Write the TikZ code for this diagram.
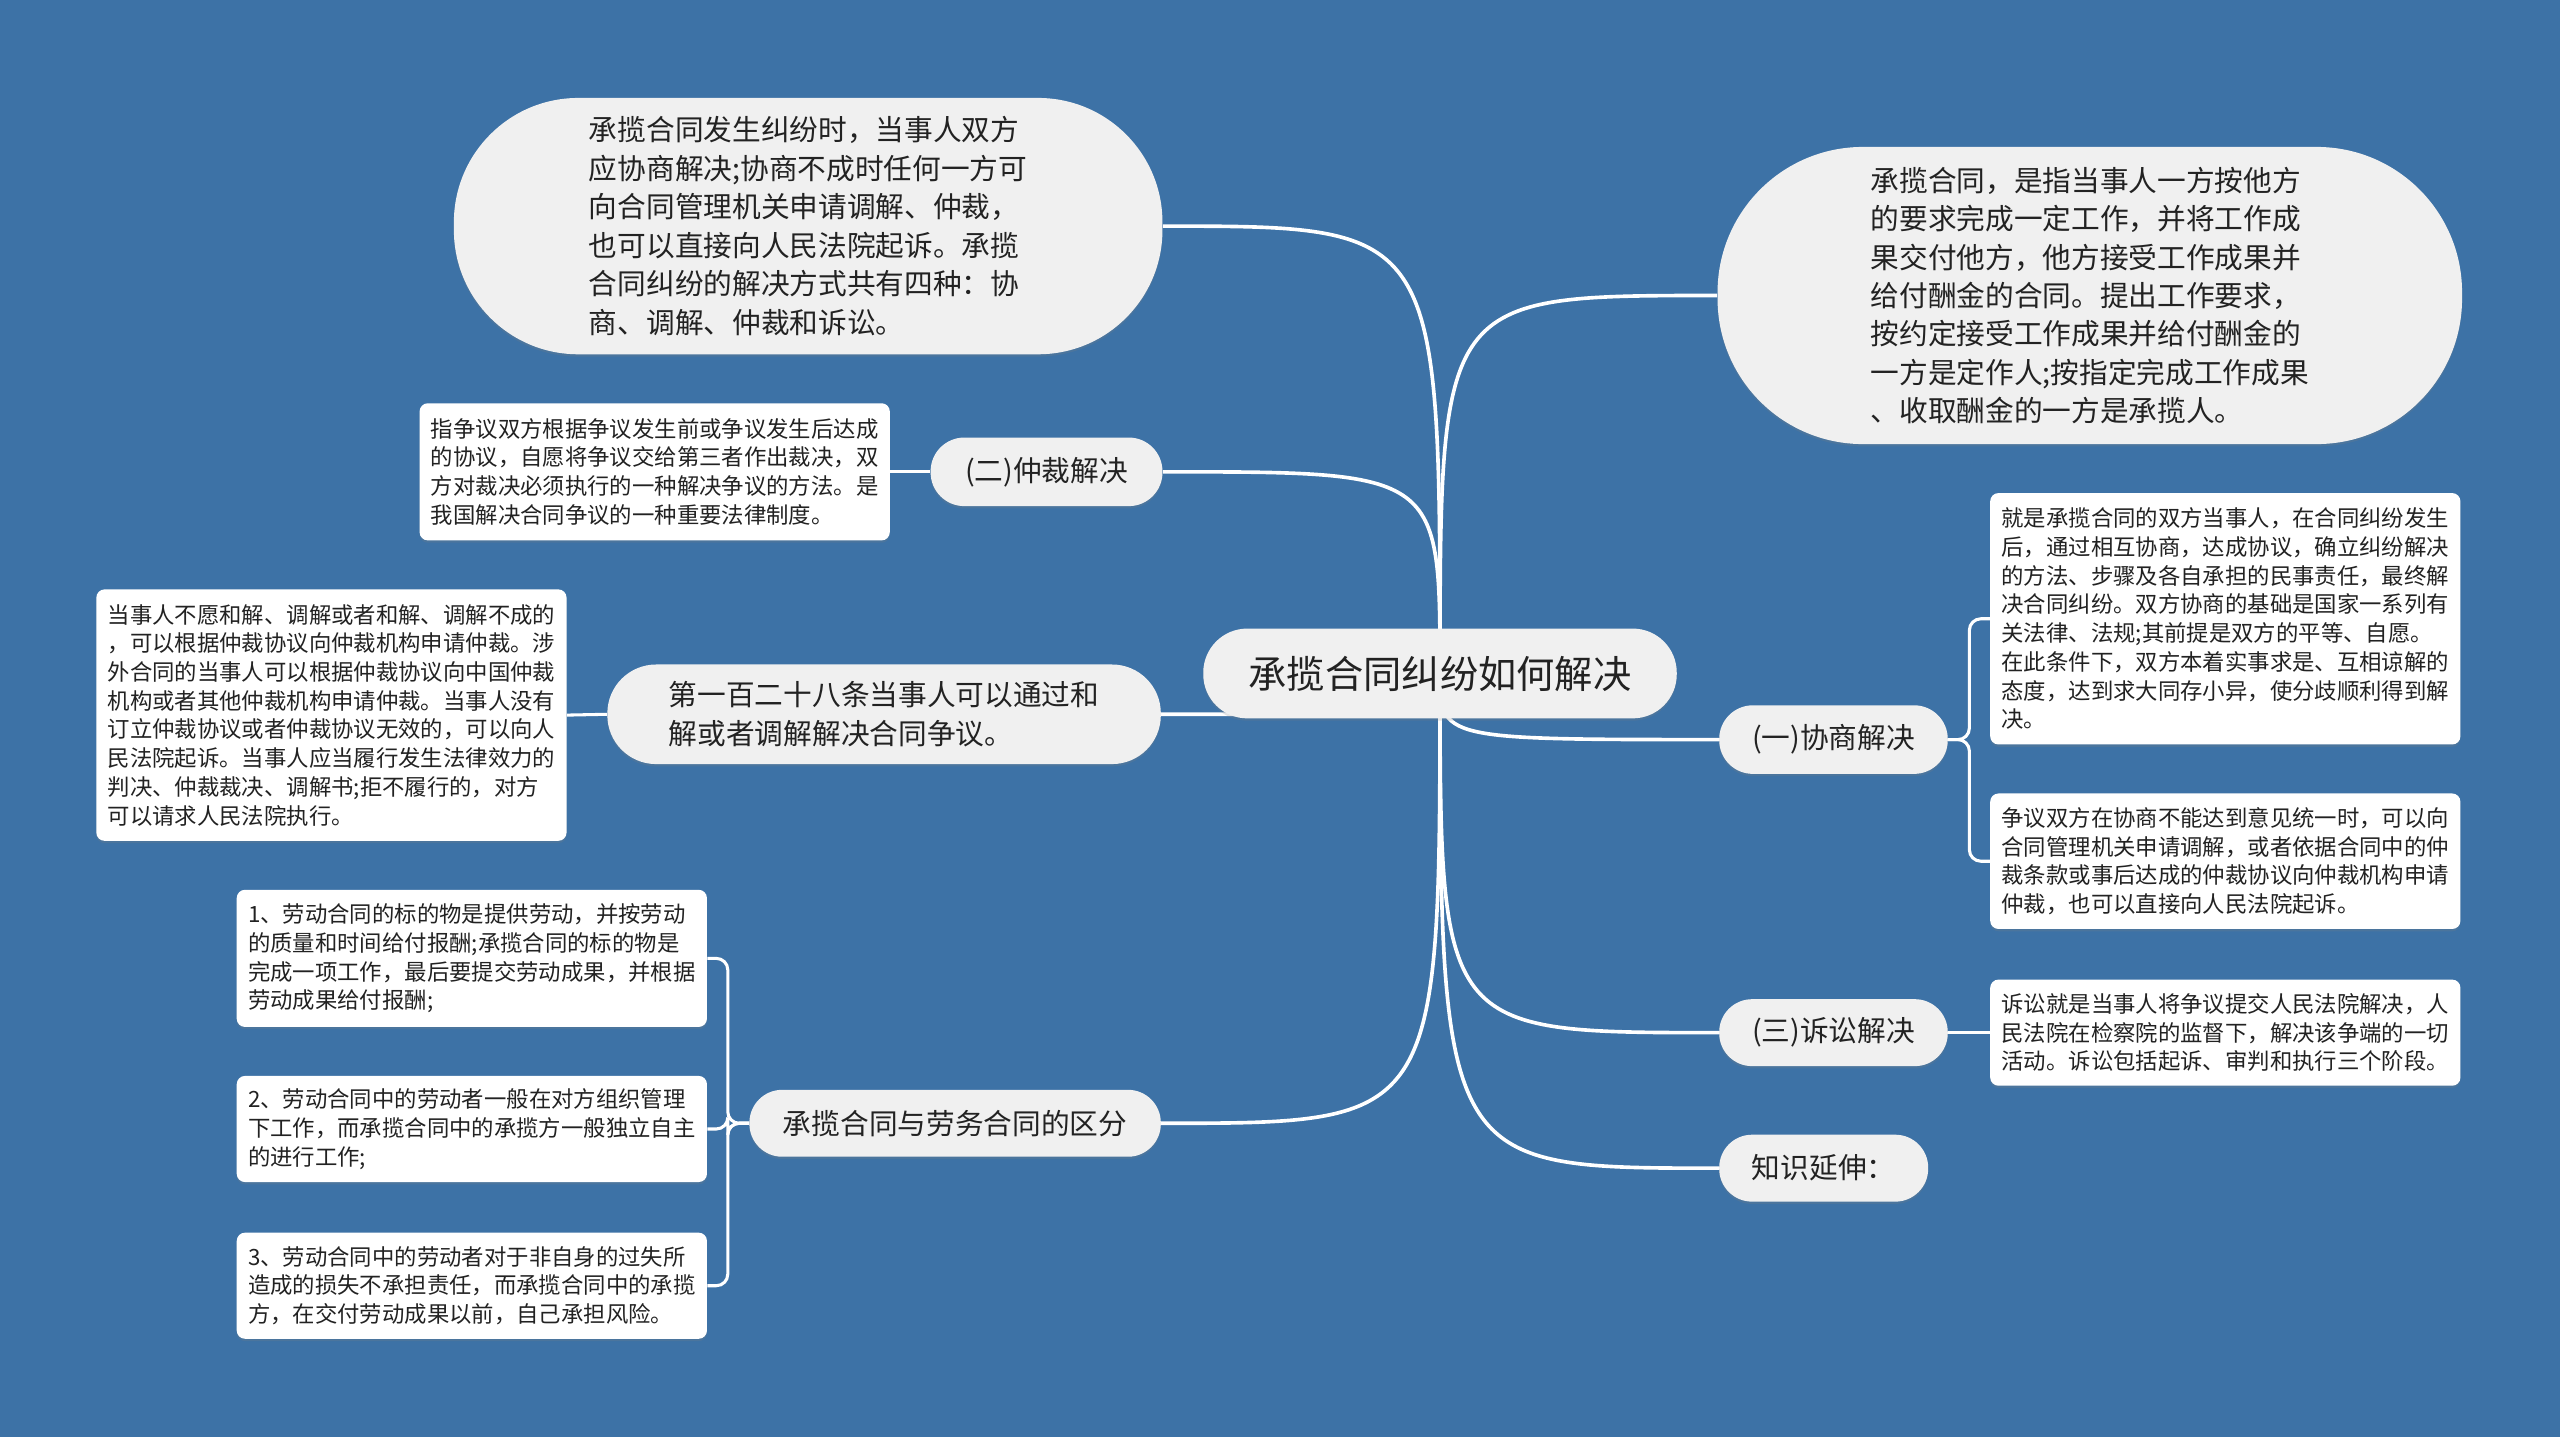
\documentclass[tikz,border=0pt]{standalone}
\usepackage{fontspec}
\newfontfamily\cjk{Noto Sans CJK SC}
\usetikzlibrary{backgrounds,shadows}
\definecolor{bgblue}{HTML}{3D72A6}
\definecolor{pillfill}{HTML}{F0F0F0}
\definecolor{txt}{HTML}{222222}
\tikzset{
  base/.style={inner sep=0pt, text=txt, align=left,
    drop shadow={shadow xshift=0pt, shadow yshift=-1.2pt, opacity=0.22}},
  pill/.style={base, fill=pillfill, font=\cjk\fontsize{15}{20.1}\selectfont},
  leafbox/.style={base, fill=white, rounded corners=4.3pt,
    minimum width=288*0.03cm, font=\cjk\fontsize{11.7}{15}\selectfont},
  conn/.style={draw=white, line width=1.9pt},
  leafconn/.style={draw=white, line width=1.6pt, rounded corners=6pt}
}
\begin{document}
\begin{tikzpicture}[x=0.03cm,y=-0.03cm]
\useasboundingbox (0,0) rectangle (1568,880);

% root
\node[pill, rounded corners=23pt, minimum width=290*0.03cm, minimum height=55*0.03cm,
  font=\cjk\fontsize{20}{24}\selectfont] (root) at (882,412.5) {承揽合同纠纷如何解决};

% left side
\node[pill, rounded corners=65pt, minimum width=434*0.03cm, minimum height=157*0.03cm] (tl) at (495,138.5)
 {承揽合同发生纠纷时，当事人双方\\应协商解决;协商不成时任何一方可\\向合同管理机关申请调解、仲裁，\\也可以直接向人民法院起诉。承揽\\合同纠纷的解决方式共有四种：协\\商、调解、仲裁和诉讼。};

\node[pill, rounded corners=17.6pt, minimum width=142*0.03cm, minimum height=42*0.03cm] (arb) at (641,289) {(二)仲裁解决};
\node[leafbox, minimum height=84*0.03cm] (arbleaf) at (401,289)
 {指争议双方根据争议发生前或争议发生后达成\\的协议，自愿将争议交给第三者作出裁决，双\\方对裁决必须执行的一种解决争议的方法。是\\我国解决合同争议的一种重要法律制度。};

\node[pill, rounded corners=25.5pt, minimum width=339*0.03cm, minimum height=61*0.03cm] (art) at (541.5,437.5)
 {第一百二十八条当事人可以通过和\\解或者调解解决合同争议。};
\node[leafbox, minimum height=154*0.03cm] (artleaf) at (203,438)
 {当事人不愿和解、调解或者和解、调解不成的\\，可以根据仲裁协议向仲裁机构申请仲裁。涉\\外合同的当事人可以根据仲裁协议向中国仲裁\\机构或者其他仲裁机构申请仲裁。当事人没有\\订立仲裁协议或者仲裁协议无效的，可以向人\\民法院起诉。当事人应当履行发生法律效力的\\判决、仲裁裁决、调解书;拒不履行的，对方\\可以请求人民法院执行。};

\node[pill, rounded corners=17.2pt, minimum width=252*0.03cm, minimum height=41*0.03cm] (diff) at (585,688) {承揽合同与劳务合同的区分};
\node[leafbox, minimum height=84*0.03cm] (d1) at (289,587)
 {1、劳动合同的标的物是提供劳动，并按劳动\\的质量和时间给付报酬;承揽合同的标的物是\\完成一项工作，最后要提交劳动成果，并根据\\劳动成果给付报酬;};
\node[leafbox, minimum height=65*0.03cm] (d2) at (289,691.5)
 {2、劳动合同中的劳动者一般在对方组织管理\\下工作，而承揽合同中的承揽方一般独立自主\\的进行工作;};
\node[leafbox, minimum height=65*0.03cm] (d3) at (289,787.5)
 {3、劳动合同中的劳动者对于非自身的过失所\\造成的损失不承担责任，而承揽合同中的承揽\\方，在交付劳动成果以前，自己承担风险。};

% right side
\node[pill, rounded corners=76pt, minimum width=456*0.03cm, minimum height=182*0.03cm] (tr) at (1280,181)
 {承揽合同，是指当事人一方按他方\\的要求完成一定工作，并将工作成\\果交付他方，他方接受工作成果并\\给付酬金的合同。提出工作要求，\\按约定接受工作成果并给付酬金的\\一方是定作人;按指定完成工作成果\\、收取酬金的一方是承揽人。};

\node[pill, rounded corners=17.6pt, minimum width=140*0.03cm, minimum height=42*0.03cm] (neg) at (1123,453) {(一)协商解决};
\node[leafbox, minimum height=154*0.03cm] (n1) at (1363,379)
 {就是承揽合同的双方当事人，在合同纠纷发生\\后，通过相互协商，达成协议，确立纠纷解决\\的方法、步骤及各自承担的民事责任，最终解\\决合同纠纷。双方协商的基础是国家一系列有\\关法律、法规;其前提是双方的平等、自愿。\\在此条件下，双方本着实事求是、互相谅解的\\态度，达到求大同存小异，使分歧顺利得到解\\决。};
\node[leafbox, minimum height=83*0.03cm] (n2) at (1363,527.5)
 {争议双方在协商不能达到意见统一时，可以向\\合同管理机关申请调解，或者依据合同中的仲\\裁条款或事后达成的仲裁协议向仲裁机构申请\\仲裁，也可以直接向人民法院起诉。};

\node[pill, rounded corners=17.2pt, minimum width=140*0.03cm, minimum height=41*0.03cm] (lit) at (1123,632.5) {(三)诉讼解决};
\node[leafbox, minimum height=65*0.03cm] (litleaf) at (1363,632.5)
 {诉讼就是当事人将争议提交人民法院解决，人\\民法院在检察院的监督下，解决该争端的一切\\活动。诉讼包括起诉、审判和执行三个阶段。};

\node[pill, rounded corners=17.2pt, minimum width=128*0.03cm, minimum height=41*0.03cm] (ext) at (1117,715.5) {知识延伸：};

\begin{pgfonlayer}{background}
\fill[bgblue] (0,0) rectangle (1568,880);
% root connectors
\draw[conn] (root.center) .. controls (root.center |- tl.east) .. (tl.east);
\draw[conn] (root.center) .. controls (root.center |- arb.east) .. (arb.east);
\draw[conn] (root.center) .. controls (root.center |- art.east) .. (art.east);
\draw[conn] (root.center) .. controls (root.center |- diff.east) .. (diff.east);
\draw[conn] (root.center) .. controls (root.center |- tr.west) .. (tr.west);
\draw[conn] (root.center) .. controls (root.center |- neg.west) .. (neg.west);
\draw[conn] (root.center) .. controls (root.center |- lit.west) .. (lit.west);
\draw[conn] (root.center) .. controls (root.center |- ext.west) .. (ext.west);
% leaf connectors
\draw[leafconn] (arb.west) -- (arbleaf.east);
\draw[leafconn] (art.west) -- (artleaf.east);
\draw[leafconn] (diff.west) -- ++(-13,0) |- (d1.east);
\draw[leafconn] (diff.west) -- ++(-13,0) |- (d2.east);
\draw[leafconn] (diff.west) -- ++(-13,0) |- (d3.east);
\draw[leafconn] (neg.east) -- ++(13,0) |- (n1.west);
\draw[leafconn] (neg.east) -- ++(13,0) |- (n2.west);
\draw[leafconn] (lit.east) -- (litleaf.west);
\end{pgfonlayer}
\end{tikzpicture}
\end{document}
